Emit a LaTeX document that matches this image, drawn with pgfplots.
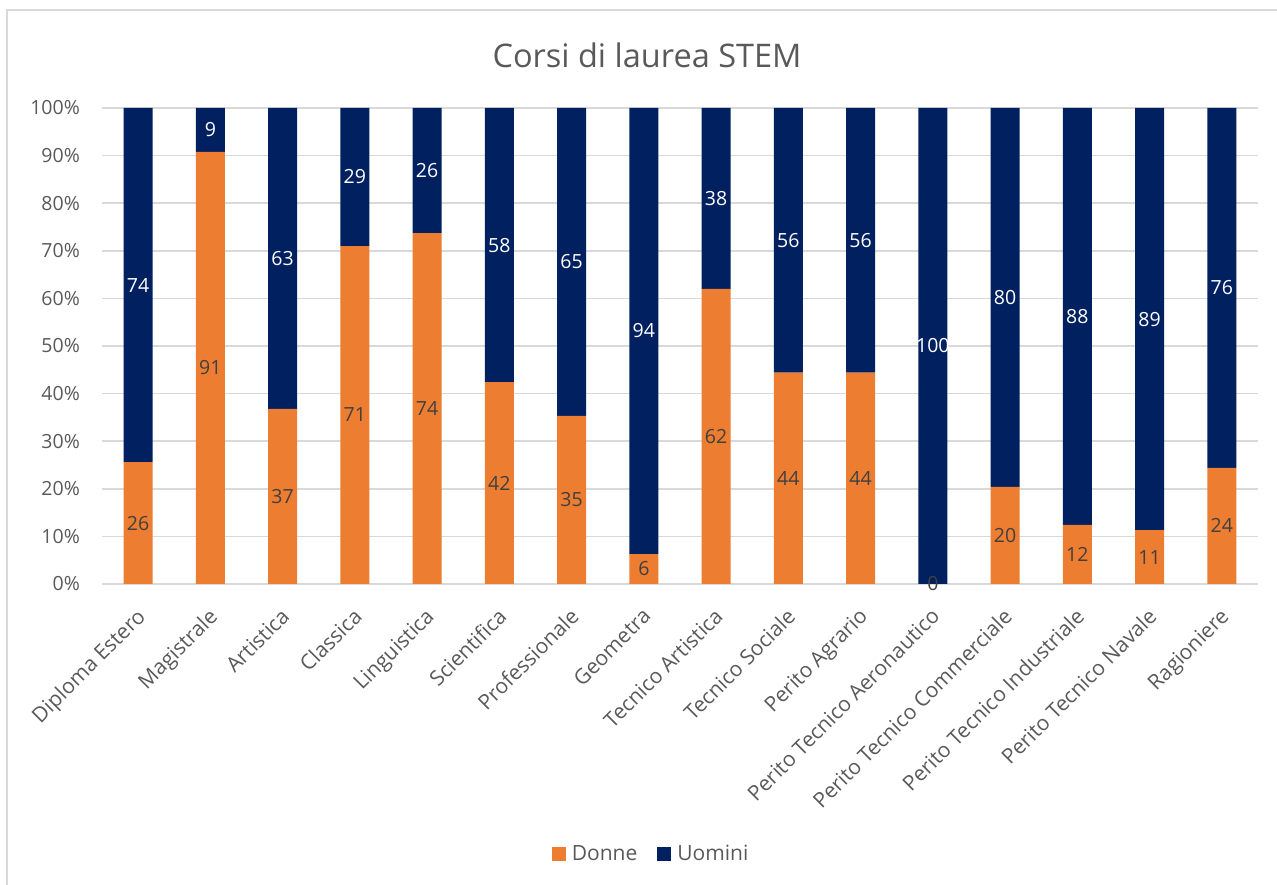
\documentclass[border=0pt]{standalone}
\usepackage{pgfplots}
\pgfplotsset{compat=1.18}
\usepackage{pgfplotstable}
\usepackage{fontspec}
\setmainfont{Open Sans}
\definecolor{donne}{HTML}{ED7D31}
\definecolor{uomini}{HTML}{002060}
\definecolor{txt}{HTML}{595959}
\definecolor{lbl}{HTML}{404040}
\definecolor{gridc}{HTML}{D9D9D9}

\pgfplotstableread{
x d u
0 25.6 74.4
1 90.8 9.2
2 36.8 63.2
3 71.0 29.0
4 73.7 26.3
5 42.4 57.6
6 35.3 64.7
7 6.3 93.7
8 62.0 38.0
9 44.4 55.6
10 44.4 55.6
11 0 100
12 20.4 79.6
13 12.4 87.6
14 11.3 88.7
15 24.4 75.6
}\data

\pgfplotstableread{
x yd ld yu lu
0 12.8 26 62.8 74
1 45.4 91 95.4 9
2 18.4 37 68.4 63
3 35.5 71 85.5 29
4 36.85 74 86.85 26
5 21.2 42 71.2 58
6 17.65 35 67.65 65
7 3.15 6 53.15 94
8 31 62 81 38
9 22.2 44 72.2 56
10 22.2 44 72.2 56
11 0 0 50 100
12 10.2 20 60.2 80
13 6.2 12 56.2 88
14 5.65 11 55.65 89
15 12.2 24 62.2 76
}\labels

\pgfplotsset{base/.style={scale only axis, width=1156pt, height=476pt,
  xmin=-0.5, xmax=15.5, ymin=0, ymax=100, at={(102pt,301pt)}, anchor=south west}}

\begin{document}
\begin{tikzpicture}
\useasboundingbox (0,0) rectangle (1277pt,885pt);
\draw[gridc, line width=1.5pt] (7pt,0pt) -- (7pt,875pt) -- (1277pt,875pt);
\begin{axis}[base,
  ybar stacked, bar width=29pt,
  xtick={0,...,15},
  xticklabels={Diploma Estero, Magistrale, Artistica, Classica, Linguistica, Scientifica, Professionale, Geometra, Tecnico Artistica, Tecnico Sociale, Perito Agrario, Perito Tecnico Aeronautico, Perito Tecnico Commerciale, Perito Tecnico Industriale, Perito Tecnico Navale, Ragioniere},
  ytick={0,10,...,100},
  yticklabel={\pgfmathprintnumber{\tick}\%},
  ymajorgrids, grid style={gridc, line width=1.5pt},
  axis line style={draw=none},
  major tick length=0pt,
  tick label style={font=\fontsize{19.5}{22}\selectfont, text=txt},
  yticklabel style={anchor=east, inner sep=0pt, xshift=-22pt},
  xticklabel style={font=\fontsize{21}{24}\selectfont, rotate=45, anchor=north east, inner sep=0pt, yshift=-14pt, xshift=-18pt},
  /pgf/number format/assume math mode=true,
  legend style={at={(0.475,-0.567)}, anchor=center, draw=none, fill=none,
    font=\fontsize{21}{24}\selectfont, text=txt,
    /tikz/every even column/.append style={column sep=18pt}},
  legend columns=2,
  legend image code/.code={\path[fill, draw=none] (0pt,-7pt) rectangle (14pt,7pt); \path (18pt,0pt);},
]
\addplot[fill=donne, draw=none] table[x=x, y=d] {\data};
\addplot[fill=uomini, draw=none] table[x=x, y=u] {\data};
\legend{Donne, Uomini}
\end{axis}
\begin{axis}[base, hide axis]
\addplot[draw=none, mark=none, nodes near coords, point meta=explicit symbolic,
  nodes near coords align={center},
  every node near coord/.style={font=\fontsize{19.5}{22}\selectfont, text=lbl, anchor=center}]
  table[x=x, y=yd, meta=ld] {\labels};
\addplot[draw=none, mark=none, nodes near coords, point meta=explicit symbolic,
  nodes near coords align={center},
  every node near coord/.style={font=\fontsize{19.5}{22}\selectfont, text=white, anchor=center}]
  table[x=x, y=yu, meta=lu] {\labels};
\end{axis}
\node[text=txt, font=\fontsize{32.5}{38}\selectfont] at (647pt,830pt) {Corsi di laurea STEM};
\end{tikzpicture}
\end{document}
